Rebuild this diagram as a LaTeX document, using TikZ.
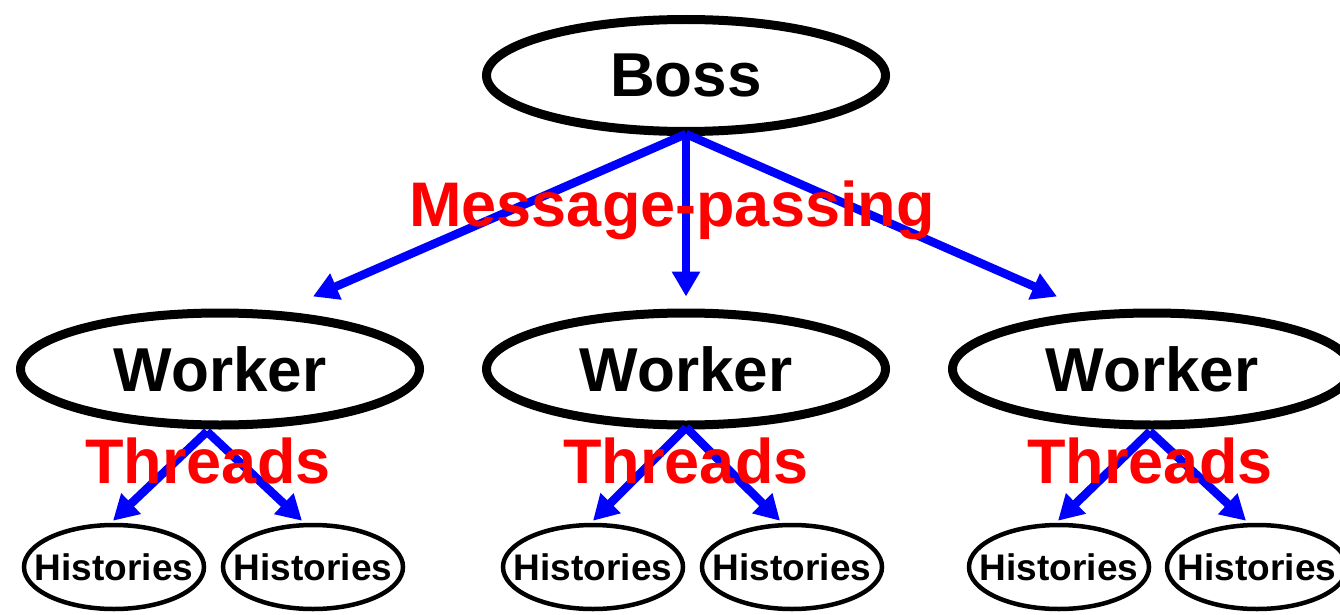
\documentclass[tikz,border=0pt]{standalone}
\usepackage{fontspec}
\setmainfont{Liberation Sans}
\usetikzlibrary{shapes.geometric,arrows.meta}
\begin{document}
\begin{tikzpicture}[x=1pt,y=-1pt,
  big/.style={ellipse,draw=black,line width=9pt,minimum width=399pt,minimum height=112pt,inner sep=0pt,text depth=0pt,font=\fontsize{62}{70}\selectfont\bfseries},
  hist/.style={ellipse,draw=black,line width=4.5pt,minimum width=180pt,minimum height=84pt,inner sep=0pt,text depth=0pt,font=\fontsize{37}{44}\selectfont\bfseries},
  lab/.style={text=red,font=\fontsize{63}{70}\selectfont\bfseries,anchor=base,inner sep=0pt},
  arr/.style={draw=blue,line width=8.5pt,-{Triangle[length=25pt,width=27pt]}}]
\useasboundingbox (0,0) rectangle (1340,615);
\node[big] (boss) at (686,75.5) {\makebox[0pt]{Boss}};
\node[big] (w1) at (220,369) {\makebox[0pt]{Worker}};
\node[big] (w2) at (686,369) {\makebox[0pt]{Worker}};
\node[big] (w3) at (1152,369) {\makebox[0pt]{Worker}};
\node[hist] (h1) at (114,567) {\makebox[0pt]{Histories}};
\node[hist] (h2) at (313,567) {\makebox[0pt]{Histories}};
\node[hist] (h3) at (593,567) {\makebox[0pt]{Histories}};
\node[hist] (h4) at (792,567) {\makebox[0pt]{Histories}};
\node[hist] (h5) at (1059,567) {\makebox[0pt]{Histories}};
\node[hist] (h6) at (1257,567) {\makebox[0pt]{Histories}};
% boss arrows
\draw[arr] ([yshift=2pt]boss.south) -- ([shift={(93,-12)}]w1.north);
\draw[arr] ([yshift=2pt]boss.south) -- ([shift={(0,-12)}]w2.north);
\draw[arr] ([yshift=2pt]boss.south) -- ([shift={(-95,-12)}]w3.north);
% worker arrows
\draw[arr] ([shift={(-13,2)}]w1.south) -- ([shift={(-1,-2)}]h1.north);
\draw[arr] ([shift={(-13,2)}]w1.south) -- ([shift={(-11,-2)}]h2.north);
\draw[arr] ([yshift=2pt]w2.south) -- ([shift={(0,-2)}]h3.north);
\draw[arr] ([yshift=2pt]w2.south) -- ([shift={(-12,-2)}]h4.north);
\draw[arr] ([shift={(-2,2)}]w3.south) -- ([shift={(-1,-2)}]h5.north);
\draw[arr] ([shift={(-2,2)}]w3.south) -- ([shift={(-11,-2)}]h6.north);
% labels
\node[lab] (mp) at (672,226) {Message-passing};
\node[lab] (t1) at (208,483) {Threads};
\node[lab] (t2) at (686,483) {Threads};
\node[lab] (t3) at (1150,483) {Threads};
\end{tikzpicture}
\end{document}
